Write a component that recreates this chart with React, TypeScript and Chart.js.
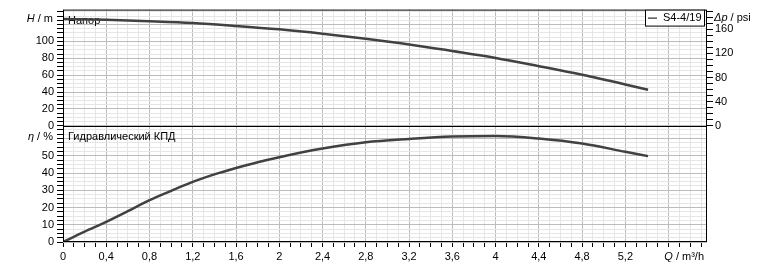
import React, { useEffect, useRef } from 'react';
import { Chart, registerables } from 'chart.js';

Chart.register(...registerables);

// ---- data ----
const qHead = [0, 0.4, 0.8, 1.2, 1.6, 2.0, 2.4, 2.8, 3.2, 3.6, 4.0, 4.4, 4.8, 5.2, 5.41];
const head = [126.6, 125.5, 123.9, 121.8, 118.3, 114.2, 109.0, 103, 96.4, 88.6, 80.4, 70.6, 60.4, 49, 42.7];

const qEff = [0, 0.2, 0.4, 0.6, 0.8, 1.0, 1.2, 1.4, 1.6, 1.8, 2.0, 2.4, 2.8, 3.2, 3.6, 4.0, 4.4, 4.8, 5.2, 5.41];
const eff = [0, 6.0, 11.7, 17.9, 24.3, 29.7, 34.9, 39.2, 42.9, 46.3, 49.2, 54.2, 57.9, 59.8, 61.2, 61.5, 60.0, 57.1, 52.3, 49.8];

const seriesName = 'S4-4/19';
const headTitle = 'Напор';
const effTitle = 'Гидравлический КПД';

const Q_MAX = 5.955;
const H_MAX = 137.6;
const ETA_MAX = 67.4;
const PSI_PER_M = 1.398;

const FONT = '"Liberation Sans", Arial, sans-serif';
const LINE = '#414141';
const GRID_MAJOR = '#bcbcbc';
const GRID_MINOR = '#e6e6e6';

function drawParts(ctx: CanvasRenderingContext2D, parts: [string, boolean][], x: number, y: number, align: 'left' | 'right') {
  ctx.save();
  ctx.textBaseline = 'middle';
  ctx.textAlign = 'left';
  const widths = parts.map(([t, it]) => {
    ctx.font = `${it ? 'italic ' : ''}11px ${FONT}`;
    return ctx.measureText(t).width;
  });
  const total = widths.reduce((a, b) => a + b, 0);
  let cx = align === 'left' ? x : x - total;
  parts.forEach(([t, it], i) => {
    ctx.font = `${it ? 'italic ' : ''}11px ${FONT}`;
    ctx.fillText(t, cx, y);
    cx += widths[i];
  });
  ctx.restore();
}

const overlay = {
  id: 'overlay',
  beforeDatasetsDraw(chart: any) {
    const { ctx, chartArea: a } = chart;
    const split = chart.scales.yH.bottom;
    ctx.save();
    ctx.fillStyle = '#000';
    ctx.font = `11px ${FONT}`;
    ctx.textBaseline = 'middle';
    ctx.textAlign = 'left';
    ctx.fillText(headTitle, a.left + 5, a.top + 11);
    ctx.fillText(effTitle, a.left + 5, split + 11.5);
    ctx.restore();
  },
  afterDraw(chart: any) {
    const { ctx, chartArea: a } = chart;
    const split = chart.scales.yH.bottom;
    ctx.save();
    ctx.strokeStyle = '#000';
    ctx.lineWidth = 1;
    ctx.strokeRect(a.left + 0.5, a.top + 0.5, a.right - a.left - 1, a.bottom - a.top - 1);
    ctx.beginPath();
    ctx.moveTo(a.left, Math.round(split) + 0.5);
    ctx.lineTo(a.right, Math.round(split) + 0.5);
    ctx.stroke();

    // legend box
    const bx = a.right - 62, by = a.top, bw = 59, bh = 16;
    ctx.fillStyle = '#fff';
    ctx.fillRect(bx, by, bw, bh);
    ctx.strokeRect(bx + 0.5, by + 0.5, bw, bh);
    ctx.beginPath();
    ctx.moveTo(bx + 3, by + 8.5);
    ctx.lineTo(bx + 12, by + 8.5);
    ctx.stroke();
    ctx.fillStyle = '#000';
    ctx.font = `11px ${FONT}`;
    ctx.textBaseline = 'middle';
    ctx.textAlign = 'left';
    ctx.fillText(seriesName, bx + 18, by + 8.5);

    ctx.fillStyle = '#000';
    drawParts(ctx, [['H', true], [' / m', false]], a.left - 10, a.top + 9.5, 'right');
    drawParts(ctx, [['η', true], [' / %', false]], a.left - 10, split + 11, 'right');
    drawParts(ctx, [['Δp', true], [' / psi', false]], a.right + 7, a.top + 8.5, 'left');
    drawParts(ctx, [['Q', true], [' / m³/h', false]], a.right - 3, a.bottom + 15, 'right');
    ctx.restore();
  },
};

const tickFont = { family: FONT, size: 11 };

export default function App() {
  const ref = useRef<HTMLCanvasElement>(null);

  useEffect(() => {
    const chart = new Chart(ref.current!, {
      type: 'line',
      data: {
        datasets: [
          {
            label: seriesName,
            data: qHead.map((q, i) => ({ x: q, y: head[i] })),
            xAxisID: 'x',
            yAxisID: 'yH',
            borderColor: LINE,
            borderWidth: 2.5,
            pointRadius: 0,
            cubicInterpolationMode: 'monotone',
            fill: false,
          },
          {
            label: seriesName + ' η',
            data: qEff.map((q, i) => ({ x: q, y: eff[i] })),
            xAxisID: 'x',
            yAxisID: 'yE',
            borderColor: LINE,
            borderWidth: 2.5,
            pointRadius: 0,
            cubicInterpolationMode: 'monotone',
            fill: false,
          },
        ],
      },
      options: {
        responsive: false,
        animation: false,
        events: [],
        layout: { padding: { top: 8, left: 0, right: 0, bottom: 0 } },
        plugins: { legend: { display: false }, tooltip: { enabled: false } },
        scales: {
          x: {
            type: 'linear',
            position: 'bottom',
            min: 0,
            max: Q_MAX,
            border: { display: false },
            grid: {
              color: (c: any) => (Math.round(c.tick.value * 10) % 4 === 0 ? GRID_MAJOR : GRID_MINOR),
              tickColor: '#000',
              tickLength: 5,
            },
            ticks: {
              stepSize: 0.1,
              includeBounds: false,
              autoSkip: false,
              maxRotation: 0,
              color: '#000',
              font: tickFont,
              padding: 3,
              callback: (v: any) => {
                const t = Math.round(Number(v) * 10);
                if (t % 4 !== 0 || t === 56) return '';
                return (t / 10).toString().replace('.', ',');
              },
            },
            afterFit: (s: any) => { s.height = 27; },
          },
          yE: {
            type: 'linear',
            position: 'left',
            stack: 'L',
            stackWeight: 1,
            min: 0,
            max: ETA_MAX,
            border: { display: false },
            grid: {
              color: (c: any) => (Math.round(c.tick.value * 10) % 100 === 0 ? GRID_MAJOR : GRID_MINOR),
              tickColor: '#000',
              tickLength: 6,
            },
            ticks: {
              stepSize: 2.5,
              includeBounds: false,
              autoSkip: false,
              color: '#000',
              font: tickFont,
              padding: 3,
              callback: (v: any) => {
                const n = Number(v);
                return Math.abs(n % 10) < 1e-6 && n <= 50 ? String(n) : '';
              },
            },
            afterFit: (s: any) => { s.width = 63; },
          },
          yH: {
            type: 'linear',
            position: 'left',
            stack: 'L',
            stackWeight: 1,
            min: 0,
            max: H_MAX,
            border: { display: false },
            grid: {
              color: (c: any) => (Math.round(c.tick.value) % 20 === 0 ? GRID_MAJOR : GRID_MINOR),
              tickColor: '#000',
              tickLength: 6,
            },
            ticks: {
              stepSize: 5,
              includeBounds: false,
              autoSkip: false,
              color: '#000',
              font: tickFont,
              padding: 3,
              callback: (v: any) => {
                const n = Number(v);
                return n % 20 === 0 && n <= 100 ? String(n) : '';
              },
            },
            afterFit: (s: any) => { s.width = 63; },
          },
          yPsi: {
            type: 'linear',
            position: 'right',
            stack: 'R',
            stackWeight: 1,
            min: 0,
            max: H_MAX * PSI_PER_M,
            border: { display: false },
            grid: { drawOnChartArea: false, tickColor: '#000', tickLength: 6 },
            ticks: {
              stepSize: 10,
              includeBounds: false,
              autoSkip: false,
              color: '#000',
              font: tickFont,
              padding: 2,
              callback: (v: any) => {
                const n = Number(v);
                return n % 40 === 0 && n <= 160 ? String(n) : '';
              },
            },
            afterFit: (s: any) => { s.width = 62; },
          },
          yR2: {
            type: 'linear',
            position: 'right',
            stack: 'R',
            stackWeight: 1,
            min: 0,
            max: 1,
            border: { display: false },
            grid: { drawOnChartArea: false, drawTicks: false },
            ticks: { display: false },
            afterFit: (s: any) => { s.width = 62; },
          },
        },
      },
      plugins: [overlay],
    } as any);
    return () => chart.destroy();
  }, []);

  return (
    <div style={{ position: 'fixed', left: 0, top: 0, width: 769, height: 269, background: '#fff' }}>
      <canvas ref={ref} width={769} height={269} style={{ display: 'block', width: 769, height: 269 }} />
    </div>
  );
}
